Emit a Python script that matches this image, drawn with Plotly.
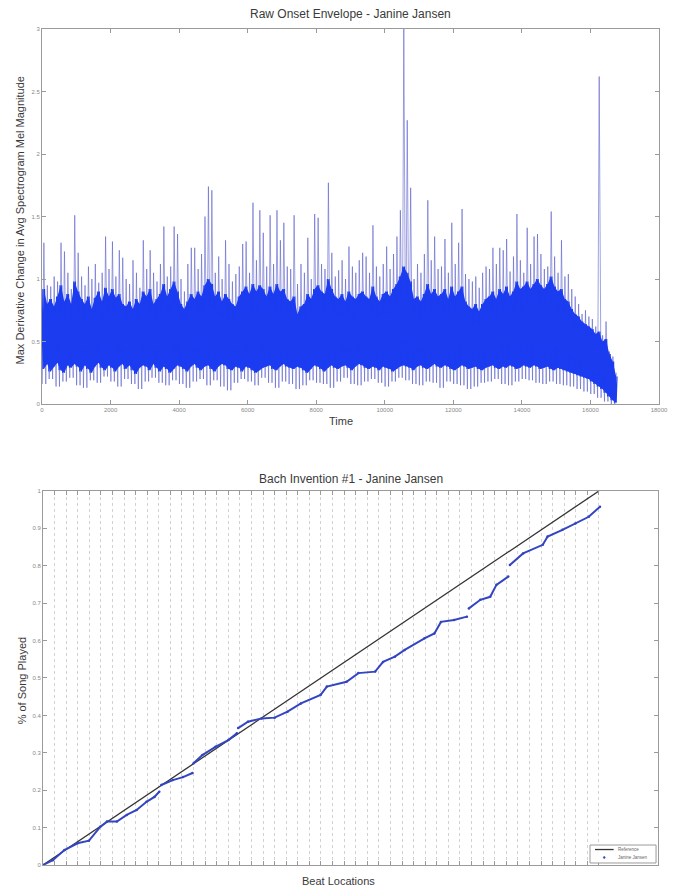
import plotly.graph_objects as go

# ---------------- Raw onset envelope (top panel) ----------------
# Tallest spike of the envelope in each 100-frame window (frames 0..16799)
env_peak = [
    1.29, 0.95, 0.94, 1.02, 0.98, 1.29, 1.22, 1.05, 0.92, 1.51,
    1.21, 1.02, 0.95, 1.10, 1.00, 1.12, 0.97, 1.05, 1.34, 1.08,
    1.30, 1.02, 1.23, 1.17, 1.00, 0.96, 1.15, 1.05, 0.93, 1.31,
    1.08, 1.23, 1.05, 0.98, 1.12, 1.42, 1.02, 1.10, 1.42, 1.36,
    1.00, 0.90, 1.12, 1.25, 1.25, 1.08, 1.20, 1.50, 1.74, 1.71,
    1.05, 1.18, 1.00, 1.31, 1.12, 0.98, 1.04, 1.10, 1.28, 1.30,
    1.05, 1.61, 1.15, 1.55, 1.37, 1.10, 1.51, 1.12, 1.55, 1.31,
    1.45, 1.10, 1.08, 1.51, 0.96, 1.12, 1.05, 1.33, 1.00, 1.52,
    1.49, 1.12, 1.08, 1.77, 1.21, 1.02, 1.07, 1.15, 1.00, 1.26,
    1.10, 1.05, 1.15, 1.21, 1.18, 1.05, 1.43, 1.10, 1.02, 1.12,
    1.26, 1.08, 1.20, 1.34, 1.55, 3.00, 2.27, 1.73, 1.00, 1.12,
    1.05, 1.20, 1.63, 1.15, 1.34, 1.08, 1.10, 1.32, 1.05, 1.45,
    1.12, 1.29, 1.56, 1.04, 1.00, 0.98, 1.02, 0.93, 1.05, 1.10,
    1.08, 1.25, 1.12, 1.25, 1.23, 1.32, 1.06, 1.18, 1.52, 1.15,
    1.05, 1.41, 1.12, 1.34, 1.36, 1.20, 1.08, 1.10, 1.54, 1.18,
    1.05, 1.31, 1.02, 1.04, 0.92, 0.86, 0.80, 0.72, 0.75, 0.70,
    0.68, 0.62, 2.62, 0.55, 0.66, 0.42, 0.38, 0.25,
]

# Top and bottom of the dense body of the signal in each 100-frame window
body_top = [
    0.92, 0.80, 0.84, 0.78, 0.86, 0.95, 0.82, 0.88, 0.80, 0.98,
    0.90, 0.84, 0.80, 0.86, 0.76, 0.85, 0.90, 0.82, 0.93, 0.86,
    0.92, 0.85, 0.88, 0.80, 0.78, 0.82, 0.76, 0.84, 0.80, 0.90,
    0.86, 0.92, 0.80, 0.84, 0.88, 0.96, 0.86, 0.92, 0.98, 0.90,
    0.80, 0.76, 0.82, 0.88, 0.84, 0.90, 0.86, 0.95, 1.00, 0.96,
    0.86, 0.90, 0.82, 0.88, 0.84, 0.80, 0.78, 0.86, 0.90, 0.94,
    0.88, 0.96, 0.90, 0.95, 0.92, 0.86, 0.94, 0.88, 0.96, 0.90,
    0.92, 0.84, 0.82, 0.86, 0.72, 0.78, 0.80, 0.88, 0.84, 0.92,
    0.95, 0.90, 0.88, 1.00, 0.92, 0.86, 0.84, 0.88, 0.82, 0.90,
    0.86, 0.84, 0.88, 0.90, 0.86, 0.84, 0.94, 0.86, 0.82, 0.88,
    0.90, 0.86, 0.92, 0.96, 1.02, 1.10, 1.05, 0.98, 0.84, 0.86,
    0.82, 0.88, 0.96, 0.88, 0.92, 0.86, 0.88, 0.92, 0.84, 0.94,
    0.86, 0.90, 0.94, 0.82, 0.78, 0.76, 0.80, 0.74, 0.80, 0.84,
    0.86, 0.90, 0.84, 0.92, 0.88, 0.94, 0.86, 0.90, 0.98, 0.92,
    0.94, 0.98, 0.92, 0.96, 1.00, 0.95, 0.92, 0.96, 1.02, 0.94,
    0.90, 0.92, 0.84, 0.82, 0.76, 0.72, 0.70, 0.66, 0.64, 0.62,
    0.60, 0.56, 0.58, 0.50, 0.52, 0.40, 0.34, 0.22,
]
body_floor = [
    0.28, 0.32, 0.26, 0.30, 0.33, 0.27, 0.25, 0.31, 0.29, 0.32,
    0.30, 0.26, 0.31, 0.28, 0.25, 0.30, 0.33, 0.29, 0.27, 0.31,
    0.29, 0.26, 0.30, 0.32, 0.28, 0.31, 0.27, 0.24, 0.29, 0.31,
    0.30, 0.27, 0.32, 0.29, 0.26, 0.30, 0.28, 0.25, 0.28, 0.31,
    0.30, 0.28, 0.26, 0.30, 0.32, 0.29, 0.27, 0.30, 0.31, 0.28,
    0.26, 0.30, 0.32, 0.31, 0.28, 0.27, 0.30, 0.29, 0.26, 0.30,
    0.29, 0.27, 0.25, 0.27, 0.29, 0.30, 0.31, 0.28, 0.27, 0.30,
    0.32, 0.30, 0.29, 0.28, 0.30, 0.29, 0.27, 0.25, 0.28, 0.31,
    0.30, 0.28, 0.26, 0.29, 0.31, 0.29, 0.28, 0.30, 0.31, 0.29,
    0.27, 0.30, 0.32, 0.31, 0.29, 0.28, 0.30, 0.29, 0.27, 0.30,
    0.29, 0.28, 0.26, 0.28, 0.30, 0.31, 0.30, 0.29, 0.27, 0.30,
    0.31, 0.29, 0.28, 0.30, 0.32, 0.30, 0.29, 0.31, 0.30, 0.28,
    0.27, 0.29, 0.31, 0.30, 0.28, 0.29, 0.30, 0.28, 0.27, 0.29,
    0.30, 0.31, 0.29, 0.28, 0.30, 0.29, 0.31, 0.30, 0.28, 0.29,
    0.31, 0.30, 0.29, 0.31, 0.30, 0.28, 0.29, 0.30, 0.28, 0.27,
    0.29, 0.28, 0.27, 0.26, 0.25, 0.24, 0.23, 0.22, 0.21, 0.20,
    0.18, 0.16, 0.14, 0.12, 0.09, 0.06, 0.03, 0.01,
]

# Lowest dips of the signal, one per 200-frame window
env_trough = [
    0.16, 0.20, 0.14, 0.18, 0.21, 0.15, 0.13, 0.19, 0.17, 0.22,
    0.18, 0.14, 0.20, 0.16, 0.12, 0.18, 0.21, 0.17, 0.15, 0.19,
    0.16, 0.13, 0.18, 0.20, 0.15, 0.19, 0.14, 0.11, 0.17, 0.20,
    0.18, 0.15, 0.21, 0.17, 0.13, 0.18, 0.16, 0.12, 0.15, 0.19,
    0.17, 0.16, 0.13, 0.18, 0.21, 0.16, 0.15, 0.18, 0.20, 0.17,
    0.14, 0.18, 0.21, 0.19, 0.16, 0.15, 0.18, 0.17, 0.13, 0.18,
    0.16, 0.15, 0.12, 0.14, 0.17, 0.18, 0.20, 0.16, 0.15, 0.18,
    0.20, 0.19, 0.17, 0.16, 0.18, 0.16, 0.15, 0.14, 0.12, 0.10,
    0.08, 0.05, 0.02, 0.00,
]

WINDOW = 100
TROUGH_WINDOW = 200
time_ticks = list(range(0, 18001, 2000))

# ---------------- Beat tracking (bottom panel) ----------------
beat_count = 48
# Measured playback position against beat location (None marks a break)
played_beat = [
    0.0, 0.85, 1.85, 2.98, 3.97, 4.94, 5.53, 6.38, 7.23, 8.09, 8.94, 9.62, 10.04, None,
    10.21, 11.21, 12.09, 12.91, None,
    13.0, 13.76, 14.89, 16.0, 16.74, None,
    16.85, 17.70, 18.87, 20.0, 21.11, 22.27, 23.97, 24.51, 26.21, 27.23, 28.68,
    29.36, 30.38, 31.23, 32.94, 33.79, 34.36, 35.49, 36.60, None,
    36.77, 37.76, 38.61, 39.15, 40.17, None,
    40.31, 41.45, 43.15, 43.57, 44.85, 45.96, 47.12, 48.09,
]
played_frac = [
    0.0, 0.013, 0.040, 0.058, 0.065, 0.102, 0.116, 0.116, 0.134, 0.147, 0.169, 0.182, 0.196, None,
    0.214, 0.227, 0.235, 0.246, None,
    0.272, 0.294, 0.316, 0.334, 0.352, None,
    0.366, 0.383, 0.392, 0.394, 0.410, 0.432, 0.455, 0.477, 0.490, 0.513, 0.517,
    0.543, 0.557, 0.575, 0.606, 0.619, 0.650, 0.655, 0.664, None,
    0.686, 0.709, 0.717, 0.749, 0.771, None,
    0.802, 0.833, 0.856, 0.878, 0.896, 0.913, 0.931, 0.958,
]
reference_beat = [0, beat_count]
reference_frac = [0.0, 1.0]

# ---------------- Envelope strokes ----------------
# Light strokes: from each window's dip up to its tallest spike
spike_x, spike_y = [], []
for i, pk in enumerate(env_peak):
    low = env_trough[min((i * WINDOW) // TROUGH_WINDOW, len(env_trough) - 1)]
    spike_x += [i * WINDOW + 10, i * WINDOW + 55]
    spike_y += [low, pk]

# Saturated strokes: dense back-and-forth across the body of each window
body_x, body_y = [], []
for i, (top, floor) in enumerate(zip(body_top, body_floor)):
    for k in range(4):
        body_x.append(i * WINDOW + k * 25)
        body_y.append(floor if k % 2 == 0 else top)

# Window centres for the solid body band
centre_x = [i * WINDOW + 50 for i in range(len(body_top))]

BODY_BLUE = "#1c3cf0"

fig = go.Figure()

fig.add_trace(go.Scatter(
    x=spike_x, y=spike_y, mode="lines", xaxis="x", yaxis="y",
    line=dict(color="rgba(80,86,200,0.55)", width=1), showlegend=False,
    hoverinfo="skip"))
fig.add_trace(go.Scatter(
    x=centre_x, y=body_floor, mode="lines", xaxis="x", yaxis="y",
    line=dict(color=BODY_BLUE, width=0), showlegend=False, hoverinfo="skip"))
fig.add_trace(go.Scatter(
    x=centre_x, y=body_top, mode="lines", xaxis="x", yaxis="y",
    line=dict(color=BODY_BLUE, width=0), fill="tonexty", fillcolor=BODY_BLUE,
    showlegend=False, hoverinfo="skip"))
fig.add_trace(go.Scatter(
    x=body_x, y=body_y, mode="lines", xaxis="x", yaxis="y",
    line=dict(color=BODY_BLUE, width=1.2), showlegend=False,
    hoverinfo="skip"))

fig.add_trace(go.Scatter(
    x=reference_beat, y=reference_frac, mode="lines", xaxis="x2", yaxis="y2",
    name="Reference", line=dict(color="#333333", width=1.3), showlegend=False))
fig.add_trace(go.Scatter(
    x=played_beat, y=played_frac, mode="lines+markers", xaxis="x2", yaxis="y2",
    name="Janine Jansen", connectgaps=False, showlegend=False,
    line=dict(color="#3445c2", width=2.0),
    marker=dict(color="#3445c2", size=2.5)))

font_family = "Liberation Sans, Arial, sans-serif"
axis_common = dict(
    showline=True, linecolor="#9a9a9a", linewidth=1, mirror="ticks",
    ticks="inside", ticklen=4, tickcolor="#9a9a9a", zeroline=False,
    tickfont=dict(size=6, color="#888888", family=font_family),
)

fig.update_layout(
    width=678, height=890,
    margin=dict(l=42, r=10, t=29, b=25),
    paper_bgcolor="white", plot_bgcolor="white",
    font=dict(family=font_family, color="#333333"),
    showlegend=False,
    xaxis=dict(domain=[0, 1], anchor="y", range=[0, 18000],
               tickvals=time_ticks, ticktext=[str(t) for t in time_ticks],
               showgrid=False, **axis_common),
    yaxis=dict(domain=[0.5514, 1], anchor="x", range=[0, 3],
               tickvals=[0, 0.5, 1, 1.5, 2, 2.5, 3],
               ticktext=["0", "0.5", "1", "1.5", "2", "2.5", "3"],
               showgrid=False, **axis_common),
    xaxis2=dict(domain=[0.0016, 0.9984], anchor="y2", range=[0, 53.1],
                tickvals=list(range(1, beat_count + 1)), showticklabels=False,
                showgrid=True, gridcolor="#d2d2d2", griddash="dot", gridwidth=1,
                **axis_common),
    yaxis2=dict(domain=[0, 0.4474], anchor="x2", range=[0, 1],
                tickvals=[i / 10 for i in range(11)],
                ticktext=["0", "0.1", "0.2", "0.3", "0.4", "0.5", "0.6", "0.7", "0.8", "0.9", "1"],
                showgrid=False, **axis_common),
)

# Compact key in the lower-right corner of the beat panel
fig.add_shape(type="rect", xref="paper", yref="paper",
              x0=0.8882, x1=0.9952, y0=0.0024, y1=0.0239,
              line=dict(color="#9a9a9a", width=1), fillcolor="white", layer="above")
fig.add_shape(type="line", xref="paper", yref="paper",
              x0=0.8962, x1=0.9265, y0=0.0185, y1=0.0185,
              line=dict(color="#333333", width=1.3), layer="above")
fig.add_shape(type="circle", xref="paper", yref="paper",
              x0=0.9097, x1=0.9129, y0=0.0078, y1=0.0102,
              line=dict(color="#3445c2", width=0.5), fillcolor="#3445c2", layer="above")
key_font = dict(size=4.5, color="#666666", family=font_family)
fig.add_annotation(text="Reference", xref="paper", yref="paper", x=0.9297, y=0.0185,
                   xanchor="left", yanchor="middle", showarrow=False, font=key_font)
fig.add_annotation(text="Janine Jansen", xref="paper", yref="paper", x=0.9297, y=0.009,
                   xanchor="left", yanchor="middle", showarrow=False, font=key_font)

title_font = dict(size=12, color="#3a3a3a", family=font_family)
label_font = dict(size=11, color="#3a3a3a", family=font_family)
fig.add_annotation(text="Raw Onset Envelope - Janine Jansen", xref="paper", yref="paper",
                   x=0.5, y=1.018, showarrow=False, font=title_font, yanchor="middle")
fig.add_annotation(text="Time", xref="paper", yref="paper",
                   x=0.485, y=0.531, showarrow=False, font=label_font, yanchor="middle")
fig.add_annotation(text="Max Derivative Change in Avg Spectrogram Mel Magnitude",
                   xref="paper", yref="paper", x=-0.035, y=0.7715, textangle=-90,
                   showarrow=False, font=label_font, xanchor="center", yanchor="middle")
fig.add_annotation(text="Bach Invention #1 - Janine Jansen", xref="paper", yref="paper",
                   x=0.5, y=0.4617, showarrow=False, font=title_font, yanchor="middle")
fig.add_annotation(text="Beat Locations", xref="paper", yref="paper",
                   x=0.48, y=-0.019, showarrow=False, font=label_font, yanchor="middle")
fig.add_annotation(text="% of Song Played", xref="paper", yref="paper",
                   x=-0.032, y=0.22, textangle=-90, showarrow=False, font=label_font,
                   xanchor="center", yanchor="middle")

fig.write_html("out.html")
